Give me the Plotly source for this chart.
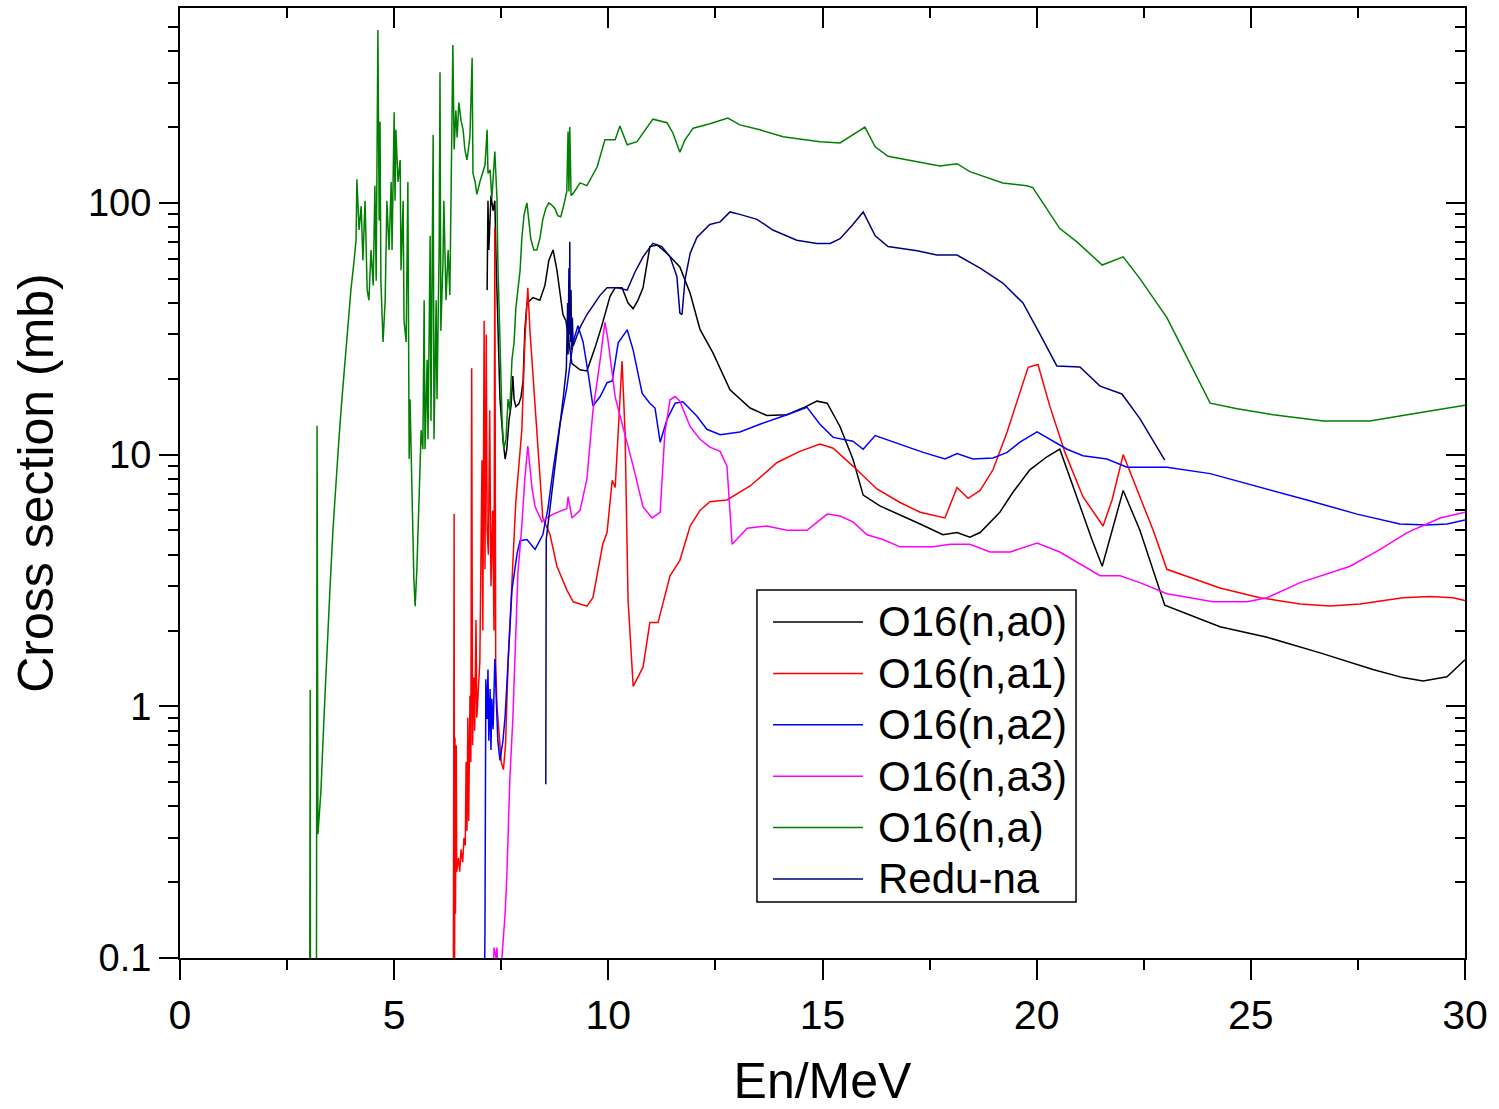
import plotly.graph_objects as go

# ---------------- data (En in MeV, cross section in mb) ----------------
a0_x = [7.17, 7.19, 7.21, 7.26, 7.31, 7.35, 7.38, 7.42, 7.47, 7.54, 7.59, 7.63, 7.68, 7.73, 7.77, 7.80,
        7.84, 7.91, 7.96, 8.01, 8.05, 8.10, 8.24, 8.40, 8.52, 8.61, 8.71, 8.80, 8.87, 8.94, 9.01, 9.08,
        9.15, 9.34, 9.50, 9.69, 9.85, 10.04, 10.16, 10.32, 10.46, 10.58, 10.69, 10.81, 10.97, 11.14,
        11.37, 11.67, 11.91, 12.14, 12.44, 12.84, 13.31, 13.70, 14.17, 14.54, 14.87, 15.11, 15.41, 15.71,
        15.95, 16.34, 16.88, 17.28, 17.81, 18.14, 18.44, 18.68, 19.14, 19.45, 19.84, 20.24, 20.54, 21.01,
        21.29, 21.53, 22.02, 22.41, 22.99, 24.28, 25.38, 26.62, 27.85, 28.55, 29.02, 29.58, 30.0]
a0_y = [45, 102, 65, 107, 93, 102, 59, 31, 16.6, 11.5, 9.6, 10.5, 13.6, 15.7, 20.5, 16.6,
        15.5, 15.9, 16.9, 19.6, 31, 40, 42, 41, 47, 59, 65, 54, 43, 36, 34, 28,
        23, 21.7, 21.5, 26.6, 32.6, 42.5, 46, 46, 40, 38, 41, 46, 67, 68,
        63, 55.6, 43.7, 31.4, 25.4, 18.1, 15.3, 14.3, 14.4, 15.3, 16.3, 16.0, 12.9, 9.6,
        6.9, 6.25, 5.7, 5.3, 4.8, 4.9, 4.7, 4.9, 5.9, 7.1, 8.7, 9.8, 10.5, 6.25,
        4.6, 3.6, 7.2, 5.0, 2.52, 2.07, 1.88, 1.63, 1.40, 1.30, 1.26, 1.31, 1.53]

a1_x = [6.38, 6.40, 6.41, 6.42, 6.43, 6.45, 6.46, 6.50, 6.53, 6.56, 6.60, 6.63, 6.66, 6.68, 6.70, 6.72,
        6.74, 6.77, 6.79, 6.81, 6.83, 6.86, 6.88, 6.91, 6.93, 7.00, 7.05, 7.07, 7.10, 7.12, 7.15, 7.17,
        7.20, 7.23, 7.26, 7.30, 7.33, 7.35, 7.37, 7.40, 7.45, 7.50, 7.55, 7.60, 7.66, 7.72, 7.78, 7.84,
        7.91, 7.98, 8.05, 8.12, 8.17, 8.33, 8.47, 8.64, 8.80, 9.03, 9.18, 9.50, 9.64, 9.87, 9.97, 10.09,
        10.16, 10.23, 10.32, 10.39, 10.46, 10.58, 10.81, 10.97, 11.16, 11.44, 11.67, 11.91, 12.14, 12.37,
        12.77, 13.31, 13.94, 14.47, 14.94, 15.25, 15.71, 16.27, 16.81, 17.28, 17.86, 18.14, 18.40, 18.68,
        18.98, 19.31, 19.61, 19.80, 20.03, 20.31, 20.66, 21.08, 21.55, 21.76, 22.02, 22.41, 22.72, 23.04,
        24.28, 25.21, 26.15, 26.85, 27.55, 28.55, 29.18, 29.72, 30.0]
a1_y = [0.05, 5.8, 0.08, 0.75, 0.15, 0.7, 0.22, 0.25, 0.22, 0.27, 0.24, 0.3, 0.28, 0.6, 0.32, 0.9,
        0.35, 1.1, 0.6, 22, 0.7, 1.3, 0.8, 2.2, 0.9, 1.5, 9.5, 2.0, 34, 3.5, 30, 5,
        4, 15, 3, 6, 2, 80, 1.5, 1.0, 0.75, 0.6, 0.56, 0.7, 1.5, 2.5, 4.0, 6.5,
        9.0, 12.5, 28, 46, 31, 12.3, 5.6, 4.8, 3.6, 2.9, 2.6, 2.5, 2.7, 4.4, 4.9, 7.9,
        7.4, 12.3, 23.5, 12.3, 2.65, 1.2, 1.43, 2.15, 2.15, 3.3, 3.8, 5.2, 6.0, 6.5,
        6.6, 7.5, 9.3, 10.3, 11.0, 10.6, 9.0, 7.3, 6.45, 5.9, 5.6, 7.4, 6.7, 7.2,
        8.7, 12.3, 17.6, 22.2, 22.8, 15.5, 10.2, 6.8, 5.2, 6.6, 10.0, 6.8, 5.0, 3.5,
        2.95, 2.7, 2.55, 2.5, 2.55, 2.7, 2.73, 2.7, 2.63]

a2_x = [7.10, 7.12, 7.14, 7.17, 7.19, 7.21, 7.24, 7.26, 7.28, 7.31, 7.35, 7.38, 7.42, 7.47, 7.54, 7.59,
        7.66, 7.70, 7.75, 7.87, 7.94, 8.10, 8.29, 8.47, 8.59, 8.71, 8.87, 9.03, 9.18, 9.29, 9.41, 9.53,
        9.64, 9.81, 9.97, 10.09, 10.23, 10.44, 10.58, 10.79, 10.97, 11.09, 11.21, 11.37, 11.56, 11.74,
        12.07, 12.30, 12.61, 13.07, 13.54, 14.17, 14.64, 14.94, 15.25, 15.71, 15.95, 16.23, 16.88, 17.35,
        17.86, 18.14, 18.51, 18.98, 19.31, 19.61, 20.01, 20.31, 20.71, 21.08, 21.64, 22.11, 23.04, 24.05,
        25.14, 26.31, 27.48, 28.48, 29.11, 29.58, 30.0]
a2_y = [0.05, 0.13, 1.28, 0.89, 1.4, 0.73, 1.17, 0.67, 1.07, 0.81, 1.54, 1.07, 0.73, 0.61, 0.73, 0.91,
        1.5, 2.1, 2.9, 4.05, 4.55, 4.6, 4.2, 4.8, 6.1, 8.7, 13.2, 18.4, 28, 32.5, 28, 21,
        15.6, 17, 19.3, 19.6, 27.8, 31.3, 26, 17.5, 16, 15.3, 11.2, 13.8, 16, 16.2,
        14.2, 12.6, 12, 12.3, 13.2, 14.4, 15.4, 13.2, 11.7, 11.3, 10.5, 11.9, 10.9, 10.2,
        9.6, 10.1, 9.6, 9.7, 10.2, 11.2, 12.3, 11.5, 10.5, 9.9, 9.6, 8.9, 8.9, 8.4,
        7.5, 6.6, 5.8, 5.3, 5.25, 5.3, 5.5]

a3_x = [7.31, 7.33, 7.38, 7.40, 7.45, 7.52, 7.59, 7.63, 7.66, 7.70, 7.77, 7.82, 7.89, 7.98, 8.05, 8.12,
        8.22, 8.29, 8.45, 8.57, 8.71, 9.03, 9.06, 9.15, 9.34, 9.50, 9.64, 9.81, 9.92, 9.99, 10.16, 10.34,
        10.58, 10.81, 11.02, 11.21, 11.32, 11.44, 11.56, 11.67, 11.91, 12.14, 12.37, 12.61, 12.77, 12.89,
        13.00, 13.24, 13.70, 14.17, 14.64, 15.11, 15.41, 15.71, 16.04, 16.41, 16.81, 17.58, 17.98, 18.44,
        18.91, 19.38, 20.01, 20.54, 21.48, 21.95, 22.41, 23.04, 24.12, 24.91, 25.38, 26.15, 27.32, 28.02,
        28.65, 29.42, 30.0]
a3_y = [0.07, 0.11, 0.1, 0.11, 0.07, 0.1, 0.15, 0.21, 0.31, 0.51, 0.89, 1.7, 3.4, 5.2, 8.0, 10.8,
        7.3, 6.2, 5.4, 5.6, 5.8, 6.1, 6.8, 5.6, 6.0, 8.0, 14.9, 23.8, 33.5, 28.7, 16.9, 12.9,
        9.0, 6.2, 5.6, 5.9, 12.2, 16.5, 17, 16.3, 12.9, 11.5, 10.7, 10.3, 9.0, 4.4,
        4.6, 5.1, 5.2, 5.0, 5.0, 5.8, 5.7, 5.4, 4.8, 4.6, 4.3, 4.3, 4.4, 4.4,
        4.1, 4.1, 4.45, 4.1, 3.3, 3.3, 3.1, 2.8, 2.6, 2.6, 2.7, 3.1, 3.6, 4.2,
        4.9, 5.6, 5.9]

na_x = [3.02, 3.04, 3.05, 3.18, 3.20, 3.22, 3.29, 3.36, 3.43, 3.50, 3.57, 3.64, 3.71, 3.78, 3.85, 3.92,
        3.99, 4.06, 4.11, 4.13, 4.18, 4.23, 4.27, 4.32, 4.37, 4.41, 4.46, 4.51, 4.55, 4.58, 4.60, 4.62,
        4.65, 4.67, 4.69, 4.74, 4.79, 4.83, 4.88, 4.93, 4.95, 5.00, 5.02, 5.04, 5.09, 5.14, 5.16, 5.21,
        5.23, 5.28, 5.32, 5.33, 5.35, 5.37, 5.42, 5.46, 5.49, 5.53, 5.58, 5.63, 5.67, 5.70, 5.72, 5.77,
        5.79, 5.84, 5.86, 5.91, 5.93, 5.98, 6.00, 6.05, 6.07, 6.09, 6.14, 6.16, 6.21, 6.26, 6.30, 6.35,
        6.37, 6.40, 6.44, 6.47, 6.51, 6.56, 6.61, 6.65, 6.70, 6.75, 6.77, 6.82, 6.84, 6.89, 6.93, 7.00,
        7.05, 7.12, 7.17, 7.19, 7.24, 7.28, 7.35, 7.40, 7.42, 7.47, 7.52, 7.56, 7.61, 7.66, 7.70, 7.75,
        7.80, 7.84, 7.89, 7.94, 7.98, 8.03, 8.08, 8.10, 8.15, 8.19, 8.26, 8.33, 8.40, 8.47, 8.54, 8.61,
        8.68, 8.75, 8.82, 8.89, 8.96, 9.01, 9.03, 9.06, 9.08, 9.10, 9.13, 9.18, 9.34, 9.50, 9.74, 9.92,
        10.16, 10.27, 10.44, 10.67, 10.86, 11.04, 11.37, 11.51, 11.67, 11.79, 11.98, 12.37, 12.79, 13.07,
        13.54, 14.08, 14.94, 15.41, 15.99, 16.23, 16.53, 17.21, 17.74, 18.14, 18.44, 19.21, 19.77, 19.91,
        20.54, 20.94, 21.53, 22.02, 22.41, 23.04, 24.05, 24.68, 25.52, 26.69, 27.78, 28.65, 30.0]
na_y = [0.01, 1.16, 0.01, 0.01, 13, 0.31, 0.46, 0.89, 1.7, 2.9, 5.0, 8, 11.5, 16.6, 23.8, 34,
        45, 58, 71, 124, 78, 97, 59, 102, 45, 41, 65, 47, 117, 49, 233, 486,
        85, 210, 49, 28, 41, 102, 65, 121, 65, 229, 102, 195, 121, 148, 54, 102,
        34, 28, 121, 18.5, 9.6, 16.6, 6.0, 3.2, 2.5, 3.5, 6.6, 12.5, 10.5, 41, 10.5, 23.8,
        11.5, 74, 13.6, 186, 11.5, 41, 16.6, 65, 330, 31, 59, 102, 41, 65, 43, 255,
        424, 163, 233, 182, 250, 213, 195, 163, 148, 172, 186, 377, 131, 121, 108, 121,
        129, 141, 195, 131, 135, 104, 160, 104, 59, 31, 13.6, 10.5, 11.5, 16.6, 15, 23.8,
        28, 38, 45, 54, 72, 89, 97, 100, 83, 72, 65, 65, 72, 86, 95, 100,
        98, 95, 89, 88, 98, 107, 111, 192, 111, 200, 107, 109, 120, 117, 139, 178,
        178, 202, 170, 175, 195, 215, 208, 189, 159, 178, 198, 206, 217, 204,
        195, 183, 175, 173, 200, 167, 153, 145, 140, 143, 133, 120, 117, 115,
        79, 70, 56.6, 61, 50, 35, 16, 15.2, 14.4, 13.6, 13.6, 14.4, 15.7]

redu_x = [8.54, 8.55, 8.70, 8.85, 8.95, 9.02, 9.05, 9.06, 9.08, 9.09, 9.10, 9.11, 9.13, 9.14, 9.16, 9.18,
          9.34, 9.50, 9.74, 9.81, 9.97, 10.23, 10.44, 10.62, 10.81, 11.04, 11.25, 11.44, 11.60, 11.67,
          11.72, 11.79, 11.91, 12.07, 12.37, 12.61, 12.84, 13.07, 13.47, 13.84, 14.40, 14.87, 15.18,
          15.41, 15.71, 15.95, 16.23, 16.53, 17.21, 17.67, 18.14, 18.68, 19.21, 19.68, 20.08, 20.47,
          21.01, 21.48, 21.99, 22.41, 22.99]
redu_y = [0.49, 4.6, 7.5, 12, 17, 22, 40, 25, 55, 30, 70, 28, 45, 26, 35, 27,
          32, 36, 41, 43, 46, 46, 45, 53, 61, 69, 67, 61, 51, 36.5,
          36, 49.5, 63, 73, 82, 84, 92, 90, 86, 78, 71, 69, 69,
          72, 82, 92, 74, 67, 64.5, 62, 62, 55, 48, 40, 30, 22.5,
          22.3, 18.7, 17.4, 13.9, 9.5]

series_names = ["O16(n,a0)", "O16(n,a1)", "O16(n,a2)", "O16(n,a3)", "O16(n,a)", "Redu-na"]
series_colors = ["#000000", "#FF0000", "#0000FF", "#FF00FF", "#008000", "#000080"]
series_x = [a0_x, a1_x, a2_x, a3_x, na_x, redu_x]
series_y = [a0_y, a1_y, a2_y, a3_y, na_y, redu_y]

x_range = [0, 30]
y_range_log = [-1, 2.774]
y_major = [0.1, 1, 10, 100]
y_major_text = ["0.1", "1", "10", "100"]
y_minor = [m * d for d in (0.1, 1, 10, 100) for m in range(2, 10) if m * d < 600]

FONT = "Liberation Sans, Arial, sans-serif"

fig = go.Figure()
for name, xs, ys, col in zip(series_names, series_x, series_y, series_colors):
    fig.add_trace(go.Scatter(x=xs, y=ys, mode="lines", name=name, showlegend=False,
                             line=dict(color=col, width=1.5)))

# invisible trace so the mirrored (inside-tick) axes are drawn
fig.add_trace(go.Scatter(x=[None], y=[None], xaxis="x2", yaxis="y2",
                         showlegend=False, hoverinfo="skip"))

# ---- legend box drawn in paper coordinates ----
leg_x0, leg_x1 = 0.449, 0.6973
leg_y_top, leg_y_bot = 0.3874, 0.0589
line_x0, line_x1 = 0.4615, 0.5315
text_x = 0.5420
row_top, row_step = 0.3537, 0.0541

shapes = [dict(type="rect", xref="paper", yref="paper", x0=leg_x0, x1=leg_x1,
               y0=leg_y_bot, y1=leg_y_top, line=dict(color="black", width=1.5),
               fillcolor="white", layer="above")]
annotations = []
for i, (name, col) in enumerate(zip(series_names, series_colors)):
    yy = row_top - i * row_step
    shapes.append(dict(type="line", xref="paper", yref="paper", x0=line_x0, x1=line_x1,
                       y0=yy, y1=yy, line=dict(color=col, width=1.5), layer="above"))
    annotations.append(dict(xref="paper", yref="paper", x=text_x, y=yy, text=name,
                            showarrow=False, xanchor="left", yanchor="middle",
                            font=dict(size=42, family=FONT, color="black")))

common_x = dict(range=x_range, tick0=0, dtick=5, showgrid=False, zeroline=False,
                showline=True, linecolor="black", linewidth=2, tickcolor="black",
                tickwidth=2, ticklen=20)
common_y = dict(type="log", range=y_range_log, tickvals=y_major, ticktext=y_major_text,
                showgrid=False, zeroline=False, showline=True, linecolor="black",
                linewidth=2, tickcolor="black", tickwidth=2, ticklen=19)

fig.update_layout(
    width=1499, height=1109,
    margin=dict(l=180, r=34, t=8, b=151, autoexpand=False),
    paper_bgcolor="white", plot_bgcolor="white",
    font=dict(family=FONT, color="black"),
    showlegend=False,
    shapes=shapes,
    annotations=annotations,
    xaxis=dict(**common_x, ticks="outside",
               tickfont=dict(size=41, family=FONT),
               minor=dict(dtick=2.5, tick0=0, ticks="outside", ticklen=10, tickwidth=2,
                          tickcolor="black", showgrid=False),
               title=dict(text="En/MeV", font=dict(size=50, family=FONT), standoff=30)),
    yaxis=dict(**common_y, ticks="outside",
               tickfont=dict(size=38, family=FONT),
               minor=dict(tickvals=y_minor, ticks="outside", ticklen=10, tickwidth=2,
                          tickcolor="black", showgrid=False),
               title=dict(text="Cross section (mb)", font=dict(size=50, family=FONT), standoff=18)),
    xaxis2=dict(**common_x, overlaying="x", side="top", anchor="y", ticks="inside",
                showticklabels=False,
                minor=dict(dtick=2.5, tick0=0, ticks="inside", ticklen=10, tickwidth=2,
                           tickcolor="black", showgrid=False)),
    yaxis2=dict(**common_y, overlaying="y", side="right", anchor="x", ticks="inside",
                showticklabels=False,
                minor=dict(tickvals=y_minor, ticks="inside", ticklen=10, tickwidth=2,
                           tickcolor="black", showgrid=False)),
)

fig.write_html("out.html")
